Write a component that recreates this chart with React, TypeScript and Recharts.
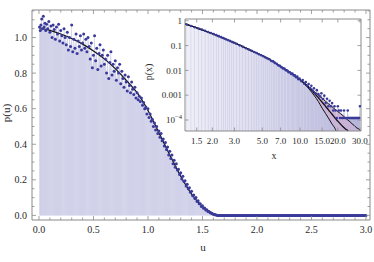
import React from 'react';
import { ComposedChart, XAxis, YAxis, Scatter, Line, Area, Bar } from 'recharts';

const FONT = '"Liberation Serif", "DejaVu Serif", serif';
const FRAME = '#8a8a8a';
const TXT = '#2a2a2a';
const DOT = '#3a3a9a';

// ---------- main plot data ----------
const mainPoints: [number, number][] = [
  [0.005,1.06],[0.012,1.04],[0.018,1.07],[0.025,1.105],[0.032,1.05],[0.04,1.12],[0.047,1.06],[0.055,1.08],[0.062,1.04],[0.07,1.075],
  [0.08,1.05],[0.09,1.09],[0.1,1.03],[0.11,1.065],[0.12,1.0],[0.13,1.07],[0.14,1.045],[0.15,0.99],[0.16,1.06],[0.17,1.02],
  [0.18,1.075],[0.19,0.98],[0.2,1.04],[0.21,1.01],[0.22,0.97],[0.23,1.05],[0.24,1.0],[0.25,0.96],[0.26,1.03],[0.27,0.93],
  [0.28,1.0],[0.29,0.95],[0.3,1.07],[0.31,0.92],[0.32,0.99],[0.33,0.94],[0.34,1.02],[0.35,0.91],[0.36,0.98],[0.37,0.95],
  [0.38,1.01],[0.39,0.93],[0.4,0.97],[0.41,1.02],[0.42,0.94],[0.43,0.99],[0.44,0.92],[0.45,1.0],[0.46,0.95],[0.47,0.88],
  [0.48,0.97],[0.49,0.83],[0.5,0.9],[0.51,1.01],[0.52,0.87],[0.53,0.94],[0.54,0.82],[0.55,0.91],[0.56,0.96],[0.57,0.84],
  [0.58,0.9],[0.59,0.93],[0.6,0.85],[0.61,0.88],[0.62,0.8],[0.63,0.9],[0.64,0.77],[0.65,0.86],[0.66,0.92],[0.67,0.79],
  [0.68,0.85],[0.69,0.81],[0.7,0.87],[0.71,0.76],[0.72,0.83],[0.73,0.8],[0.74,0.85],[0.75,0.74],[0.76,0.81],[0.77,0.77],
  [0.78,0.72],[0.79,0.79],[0.8,0.75],[0.81,0.7],[0.82,0.78],[0.83,0.73],[0.84,0.69],[0.85,0.75],[0.86,0.71],[0.87,0.68],
  [0.88,0.72],[0.89,0.66],[0.9,0.69],[0.91,0.65],[0.92,0.67],[0.93,0.64],[0.94,0.66],[0.95,0.62],[0.96,0.635],[0.97,0.6],
  [0.98,0.61],[0.99,0.57],[1.0,0.6],[1.01,0.55],[1.02,0.57],[1.03,0.53],[1.04,0.54],[1.05,0.5],[1.06,0.52],[1.07,0.48],
  [1.08,0.5],[1.09,0.46],[1.1,0.475],[1.11,0.44],[1.12,0.46],[1.13,0.42],[1.14,0.43],[1.15,0.39],[1.16,0.41],[1.17,0.37],
  [1.18,0.385],[1.19,0.34],[1.2,0.36],[1.21,0.32],[1.22,0.34],[1.23,0.29],[1.24,0.31],[1.25,0.27],[1.26,0.29],[1.27,0.255],
  [1.28,0.26],[1.29,0.23],[1.3,0.24],[1.31,0.205],[1.32,0.22],[1.33,0.19],[1.34,0.195],[1.35,0.165],[1.36,0.175],[1.37,0.15],
  [1.38,0.155],[1.39,0.13],[1.4,0.135],[1.41,0.11],[1.42,0.115],[1.43,0.095],[1.44,0.1],[1.45,0.078],[1.46,0.082],[1.47,0.065],
  [1.48,0.066],[1.49,0.05],[1.5,0.054],[1.51,0.04],[1.52,0.042],[1.53,0.03],[1.54,0.031],[1.55,0.022],[1.56,0.022],[1.57,0.015],
  [1.58,0.013],[1.59,0.009],[1.6,0.007],[1.61,0.004],[1.62,0.003],[1.63,0.001],
  [1.64,0],[1.65,0],[1.66,0],[1.67,0],[1.68,0],[1.69,0],[1.7,0],[1.71,0],[1.72,0],[1.73,0],[1.74,0],[1.75,0],[1.76,0],[1.77,0],
  [1.78,0],[1.79,0],[1.8,0],[1.81,0],[1.82,0],[1.83,0],[1.84,0],[1.85,0],[1.86,0],[1.87,0],[1.88,0],[1.89,0],[1.9,0],[1.91,0],
  [1.92,0],[1.93,0],[1.94,0],[1.95,0],[1.96,0],[1.97,0],[1.98,0],[1.99,0],[2.0,0],[2.01,0],[2.02,0],[2.03,0],[2.04,0],[2.05,0],
  [2.06,0],[2.07,0],[2.08,0],[2.09,0],[2.1,0],[2.11,0],[2.12,0],[2.13,0],[2.14,0],[2.15,0],[2.16,0],[2.17,0],[2.18,0],[2.19,0],
  [2.2,0],[2.21,0],[2.22,0],[2.23,0],[2.24,0],[2.25,0],[2.26,0],[2.27,0],[2.28,0],[2.29,0],[2.3,0],[2.31,0],[2.32,0],[2.33,0],
  [2.34,0],[2.35,0],[2.36,0],[2.37,0],[2.38,0],[2.39,0],[2.4,0],[2.41,0],[2.42,0],[2.43,0],[2.44,0],[2.45,0],[2.46,0],[2.47,0],
  [2.48,0],[2.49,0],[2.5,0],[2.51,0],[2.52,0],[2.53,0],[2.54,0],[2.55,0],[2.56,0],[2.57,0],[2.58,0],[2.59,0],[2.6,0],[2.61,0],
  [2.62,0],[2.63,0],[2.64,0],[2.65,0],[2.66,0],[2.67,0],[2.68,0],[2.69,0],[2.7,0],[2.71,0],[2.72,0],[2.73,0],[2.74,0],[2.75,0],
  [2.76,0],[2.77,0],[2.78,0],[2.79,0],[2.8,0],[2.81,0],[2.82,0],[2.83,0],[2.84,0],[2.85,0],[2.86,0],[2.87,0],[2.88,0],[2.89,0],
  [2.9,0],[2.91,0],[2.92,0],[2.93,0],[2.94,0],[2.95,0],[2.96,0],[2.97,0],[2.98,0],[2.99,0],[3.0,0],
];

const mainCurve: [number, number][] = [
  [0,1.055],[0.1,1.04],[0.2,1.02],[0.3,0.995],[0.4,0.963],[0.5,0.925],[0.6,0.88],[0.7,0.825],[0.8,0.76],[0.9,0.69],
  [1.0,0.59],[1.1,0.465],[1.2,0.34],[1.3,0.22],[1.4,0.12],[1.5,0.05],[1.6,0.01],[1.66,0],[3.0,0],
];

const mainXTicks = [0,0.1,0.2,0.3,0.4,0.5,0.6,0.7,0.8,0.9,1.0,1.1,1.2,1.3,1.4,1.5,1.6,1.7,1.8,1.9,2.0,2.1,2.2,2.3,2.4,2.5,2.6,2.7,2.8,2.9,3.0];
const mainXMajor = [0,0.5,1.0,1.5,2.0,2.5,3.0];
const mainYTicks = [0,0.05,0.1,0.15,0.2,0.25,0.3,0.35,0.4,0.45,0.5,0.55,0.6,0.65,0.7,0.75,0.8,0.85,0.9,0.95,1.0,1.05,1.1,1.15];
const mainYMajor = [0,0.2,0.4,0.6,0.8,1.0];

// ---------- inset data ----------
const insetPoints: [number, number][] = [
  [1.25,0.71],[1.35,0.62],[1.45,0.55],[1.55,0.49],[1.65,0.44],[1.75,0.395],[1.85,0.355],[1.95,0.32],[2.05,0.29],[2.15,0.263],
  [2.25,0.24],[2.35,0.219],[2.45,0.2],[2.55,0.183],[2.65,0.168],[2.75,0.155],[2.85,0.143],[2.95,0.132],[3.1,0.118],[3.3,0.102],
  [3.5,0.089],[3.7,0.078],[3.9,0.07],[4.1,0.062],[4.3,0.055],[4.5,0.05],[4.7,0.045],[4.9,0.041],[5.1,0.037],[5.3,0.033],
  [5.5,0.03],[5.7,0.028],[5.9,0.024],[6.1,0.023],[6.3,0.02],[6.5,0.0185],[6.7,0.016],[6.9,0.0152],[7.1,0.0135],[7.3,0.012],
  [7.5,0.0118],[7.7,0.0102],[7.9,0.0098],[8.1,0.0085],[8.3,0.0084],[8.5,0.0072],[8.7,0.0074],[8.9,0.0062],[9.1,0.0064],[9.3,0.0053],
  [9.5,0.0056],[9.7,0.0044],[9.9,0.0047],[10.2,0.0037],[10.5,0.0041],[10.8,0.0029],[11.1,0.0034],[11.4,0.0024],[11.7,0.0028],[12.0,0.0019],
  [12.3,0.0024],[12.6,0.0015],[12.9,0.0019],[13.2,0.0012],[13.6,0.0016],[14.0,0.0011],[14.4,0.0009],[14.8,0.0012],[15.2,0.0007],[15.6,0.00096],
  [16.0,0.00048],[16.4,0.00072],[16.8,0.00036],[17.2,0.0006],[17.6,0.00036],[18.0,0.00048],[18.4,0.00024],[18.8,0.00036],[19.2,0.00024],[19.6,0.00012],
  [20.0,0.00036],[20.4,0.00024],[20.8,0.00012],[21.2,0.00024],[21.6,0.00012],[22.0,0.00012],[22.4,0.00024],[22.8,0.00012],[23.2,0.00012],[23.6,0.00012],
  [24.0,0.00024],[24.4,0.00012],[24.8,0.00012],[25.2,0.00012],[25.6,0.00012],[26.0,0.00012],[26.4,0.00012],[26.8,0.00012],[27.2,0.00012],[27.6,0.00012],
  [28.0,0.00012],[28.4,0.00012],[28.8,0.00012],[29.2,0.00012],[29.6,0.00012],[30.0,0.00036],
];

const insetCurveX = [1.21,1.5,2,2.5,3,4,5,6,7,8,9,10,11,12,13,14,15,16,17,18,19,20,21,22,23,24,25,26,27,28,29,30,31];
const insetCurveLo = [0.75,0.52,0.3,0.19,0.13,0.066,0.039,0.024,0.0145,0.0095,
  0.0063,0.0041,0.0026,0.0016,0.00095,0.00055,0.0003,0.00018,0.00011,0.000068,0.000045,0.00002,0.000002,
  0.000001,0.000001,0.000001,0.000001,0.000001,0.000001,0.000001,0.000001,0.000001,0.000001];
const insetCurveMid = [0.75,0.52,0.3,0.19,0.13,0.066,0.039,0.024,0.0145,0.0095,
  0.0063,0.0042,0.0028,0.0018,0.0012,0.00078,0.00052,0.00035,0.00024,0.00017,0.00012,0.00009,0.000068,0.000053,0.000043,0.000037,0.00002,0.000002,
  0.000001,0.000001,0.000001,0.000001,0.000001];
const insetCurveHi = [0.75,0.52,0.3,0.19,0.13,0.066,0.039,0.024,0.0145,0.0095,
  0.0063,0.0043,0.0029,0.002,0.0014,0.001,0.00075,0.00056,0.00043,0.00034,0.00027,0.00022,0.00018,0.00015,0.00012,0.0001,0.000085,0.00007,0.00006,0.00005,0.000045,0.00004,0.000008];

const insetXTicks = [1.5,2,3,5,7,10,15,20,30];
const insetYTicks = [1,0.1,0.01,0.001,0.0001];

// ---------- table building ----------
const mainData = mainPoints.map(([u, p]) => ({ u, p }));
const mainCurveData = mainCurve.map(([u, c]) => ({ u, c }));
const insetData = insetPoints.map(([x, p]) => ({ x, p }));
const insetCurveData = insetCurveX.map((x, i) => ({
  x, lo: insetCurveLo[i], mid: insetCurveMid[i], hi: insetCurveHi[i], band: [insetCurveLo[i], insetCurveHi[i]],
}));

const isIn = (v: number, list: number[]) => list.some((m) => Math.abs(m - v) < 1e-9);

type Side = 'bottom' | 'top' | 'left' | 'right';
function makeTick(side: Side, majors: number[], majLen: number, minLen: number,
  label?: (v: number) => React.ReactNode, fontSize = 10, offset = 0) {
  return (props: any) => {
    const { x, y, payload } = props;
    const v = payload.value;
    const major = isIn(v, majors);
    const L = major ? majLen : minLen;
    let line;
    if (side === 'bottom') line = <line x1={x} x2={x} y1={y} y2={y - L} />;
    else if (side === 'top') line = <line x1={x} x2={x} y1={y} y2={y + L} />;
    else if (side === 'left') line = <line x1={x} x2={x + L} y1={y} y2={y} />;
    else line = <line x1={x} x2={x - L} y1={y} y2={y} />;
    let text = null;
    if (major && label) {
      if (side === 'bottom')
        text = <text x={x} y={y + offset} textAnchor="middle" fontFamily={FONT} fontSize={fontSize} fill={TXT} stroke="none">{label(v)}</text>;
      else if (side === 'left')
        text = <text x={x - offset} y={y + fontSize * 0.35} textAnchor="end" fontFamily={FONT} fontSize={fontSize} fill={TXT} stroke="none">{label(v)}</text>;
    }
    return (
      <g stroke={FRAME} strokeWidth={0.8}>
        {line}
        {text}
      </g>
    );
  };
}

const insetYLabel = (v: number): React.ReactNode => {
  if (v === 1) return '1';
  if (v === 0.1) return '0.1';
  if (v === 0.01) return '0.01';
  if (v === 0.001) return '0.001';
  return (
    <>
      10<tspan dy={-4} fontSize={6.5}>−4</tspan>
    </>
  );
};

function MainChart() {
  const xd: [number, number] = [-0.064, 3.037];
  const yd: [number, number] = [-0.026, 1.155];
  return (
    <ComposedChart width={374} height={262} data={mainData} margin={{ top: 9, right: 3, bottom: 22, left: 0 }}>
      <XAxis xAxisId="b" dataKey="u" type="number" domain={xd} ticks={mainXTicks} interval={0} height={20}
        tickSize={0} tickMargin={0} axisLine={{ stroke: FRAME }} tickLine={false}
        tick={makeTick('bottom', mainXMajor, 4, 2.5, (v) => v.toFixed(1), 10, 12.5)} allowDataOverflow />
      <XAxis xAxisId="t" dataKey="u" type="number" orientation="top" domain={xd} ticks={mainXTicks} interval={0} height={1}
        tickSize={0} tickMargin={0} axisLine={{ stroke: FRAME }} tickLine={false}
        tick={makeTick('top', mainXMajor, 4, 2.5)} allowDataOverflow />
      <YAxis yAxisId="l" type="number" domain={yd} ticks={mainYTicks} interval={0} width={32}
        tickSize={0} tickMargin={0} axisLine={{ stroke: FRAME }} tickLine={false}
        tick={makeTick('left', mainYMajor, 4, 2.5, (v) => v.toFixed(1), 10, 5)} allowDataOverflow />
      <YAxis yAxisId="r" orientation="right" type="number" domain={yd} ticks={mainYTicks} interval={0} width={1}
        tickSize={0} tickMargin={0} axisLine={{ stroke: FRAME }} tickLine={false}
        tick={makeTick('right', mainYMajor, 4, 2.5)} allowDataOverflow />
      <Area xAxisId="b" yAxisId="l" dataKey="p" type="linear" stroke="none" fill="#dadbee" fillOpacity={1} isAnimationActive={false} />
      <Bar xAxisId="b" yAxisId="l" dataKey="p" barSize={1} fill="#c9c9e4" isAnimationActive={false} />
      <Line xAxisId="b" yAxisId="l" data={mainCurveData} dataKey="c" type="monotone" stroke="#111" strokeWidth={1.2} dot={false} isAnimationActive={false} />
      <Scatter xAxisId="b" yAxisId="l" data={mainData} dataKey="p" isAnimationActive={false}
        shape={(p: any) => <circle cx={p.cx} cy={p.cy} r={1.5} fill={DOT} />} />
    </ComposedChart>
  );
}

function InsetChart() {
  const xd: [number, number] = [1.21, 30.6];
  const yd: [number, number] = [3.6e-5, 1.18];
  return (
    <ComposedChart width={224} height={170} data={insetData} margin={{ top: 18, right: 12, bottom: 19, left: 0 }}>
      <defs>
        <linearGradient id="insetFill" x1="0" y1="0" x2="1" y2="0">
          <stop offset="0%" stopColor="#e9e9f5" />
          <stop offset="60%" stopColor="#c6c6e3" />
          <stop offset="100%" stopColor="#9c9ccd" />
        </linearGradient>
      </defs>
      <XAxis xAxisId="b" dataKey="x" type="number" scale="log" domain={xd} ticks={insetXTicks} interval={0} height={20}
        tickSize={0} tickMargin={0} axisLine={{ stroke: FRAME }} tickLine={false}
        tick={makeTick('bottom', insetXTicks, 3.5, 2, (v) => v.toFixed(1), 9, 12.5)} allowDataOverflow />
      <XAxis xAxisId="t" dataKey="x" type="number" scale="log" orientation="top" domain={xd} ticks={insetXTicks} interval={0} height={1}
        tickSize={0} tickMargin={0} axisLine={{ stroke: FRAME }} tickLine={false}
        tick={makeTick('top', insetXTicks, 3.5, 2)} allowDataOverflow />
      <YAxis yAxisId="l" type="number" scale="log" domain={yd} ticks={insetYTicks} interval={0} width={35}
        tickSize={0} tickMargin={0} axisLine={{ stroke: FRAME }} tickLine={false}
        tick={makeTick('left', insetYTicks, 3.5, 2, insetYLabel, 9, 3)} allowDataOverflow />
      <YAxis yAxisId="r" orientation="right" type="number" scale="log" domain={yd} ticks={insetYTicks} interval={0} width={1}
        tickSize={0} tickMargin={0} axisLine={{ stroke: FRAME }} tickLine={false}
        tick={makeTick('right', insetYTicks, 3.5, 2)} allowDataOverflow />
      <Area xAxisId="b" yAxisId="l" dataKey="p" type="linear" stroke="none" fill="url(#insetFill)" fillOpacity={0.75} isAnimationActive={false} />
      <Bar xAxisId="b" yAxisId="l" dataKey="p" barSize={1} fill="#b9b9dc" isAnimationActive={false} />
      <Area xAxisId="b" yAxisId="l" data={insetCurveData} dataKey="band" type="monotone" stroke="none" fill="#d7aed1" fillOpacity={0.75} isAnimationActive={false} />
      <Scatter xAxisId="b" yAxisId="l" data={insetData} dataKey="p" isAnimationActive={false}
        shape={(p: any) => <circle cx={p.cx} cy={p.cy} r={1.3} fill={DOT} />} />
      <Line xAxisId="b" yAxisId="l" data={insetCurveData} dataKey="lo" type="monotone" stroke="#111" strokeWidth={1} dot={false} isAnimationActive={false} />
      <Line xAxisId="b" yAxisId="l" data={insetCurveData} dataKey="hi" type="monotone" stroke="#111" strokeWidth={1} dot={false} isAnimationActive={false} />
      <Line xAxisId="b" yAxisId="l" data={insetCurveData} dataKey="mid" type="monotone" stroke="#111" strokeWidth={1.3} dot={false} isAnimationActive={false} />
    </ComposedChart>
  );
}

export default function App() {
  return (
    <div style={{ position: 'absolute', left: 0, top: 0, width: 374, height: 262, background: '#fff' }}>
      <div style={{ position: 'absolute', left: 0, top: 0 }}>
        <MainChart />
      </div>
      <div style={{ position: 'absolute', left: 150, top: 0 }}>
        <InsetChart />
      </div>
      <svg width={374} height={262} style={{ position: 'absolute', left: 0, top: 0, pointerEvents: 'none' }}>
        <text x={203} y={251} textAnchor="middle" fontFamily={FONT} fontSize={11} fill={TXT}>u</text>
        <text transform="translate(10,113) rotate(-90)" textAnchor="middle" fontFamily={FONT} fontSize={11} fill={TXT}>p(u)</text>
        <text x={274} y={159} textAnchor="middle" fontFamily={FONT} fontSize={10} fill={TXT}>x</text>
        <text transform="translate(152,72) rotate(-90)" textAnchor="middle" fontFamily={FONT} fontSize={10} fill={TXT}>p(x)</text>
      </svg>
    </div>
  );
}
